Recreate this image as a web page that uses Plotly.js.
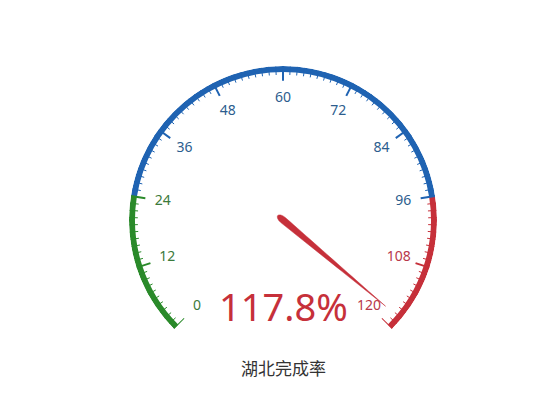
<!DOCTYPE html>
<html>
<head>
<meta charset="utf-8">
<script src="https://cdn.plot.ly/plotly-3.0.1.min.js"></script>
<style>html,body{margin:0;padding:0;background:#fff;}#chart{width:560px;height:404px;}</style>
</head>
<body>
<div id="chart"></div>
<script>
// ---- data ----
var gaugeMin = 0;
var gaugeMax = 120;
var gaugeValue = 117.8;
var chartTitle = '湖北完成率';
var tickLabels = [0, 12, 24, 36, 48, 60, 72, 84, 96, 108, 120];
var minorPerMajor = 10;
var bandEnds = [24, 96, 120];
var bandColors = ['#2a8a2a', '#1f63b2', '#c6303a'];
var labelColors = ['#3b7a3b', '#2c5d8e', '#b8384a'];

// ---- helpers ----
var SPAN = 270;
function deg(v) { return (v - gaugeMin) / (gaugeMax - gaugeMin) * SPAN; }
function bandIndex(v) {
  for (var i = 0; i < bandEnds.length; i++) { if (v <= bandEnds[i] + 1e-9) return i; }
  return bandEnds.length - 1;
}
function bandColor(v) { return bandColors[bandIndex(v)]; }

var traces = [];

// axis line bands (true arcs via barpolar)
var bStart = gaugeMin;
var bTheta = [], bWidth = [];
bandEnds.forEach(function (e) {
  bTheta.push(deg((bStart + e) / 2));
  bWidth.push(deg(e) - deg(bStart));
  bStart = e;
});
traces.push({
  type: 'barpolar', r: bandEnds.map(function () { return 0.039; }),
  base: bandEnds.map(function () { return 0.961; }),
  theta: bTheta, width: bWidth,
  marker: { color: bandColors, line: { width: 0 } },
  hoverinfo: 'skip'
});

// ticks
var majorStep = tickLabels[1] - tickLabels[0];
var minorStep = majorStep / minorPerMajor;
bandColors.forEach(function (col, bi) {
  var majT = [], majR = [], minT = [], minR = [];
  var n = Math.round((gaugeMax - gaugeMin) / minorStep);
  for (var k = 0; k <= n; k++) {
    var v = gaugeMin + k * minorStep;
    if (bandIndex(v) !== bi) continue;
    var t = deg(v);
    if (k % minorPerMajor === 0) {
      majT.push(t, t, null); majR.push(1.0, 0.905, null);
    } else {
      minT.push(t, t, null); minR.push(1.0, 0.943, null);
    }
  }
  traces.push({ type: 'scatterpolar', mode: 'lines', theta: majT, r: majR,
    line: { color: col, width: 2 }, hoverinfo: 'skip', connectgaps: false });
  traces.push({ type: 'scatterpolar', mode: 'lines', theta: minT, r: minR,
    line: { color: col, width: 1 }, hoverinfo: 'skip', connectgaps: false });
});

// tick labels
traces.push({
  type: 'scatterpolar', mode: 'text',
  theta: tickLabels.map(deg), r: tickLabels.map(function () { return 0.79; }),
  text: tickLabels.map(String),
  textposition: 'middle center',
  textfont: { family: 'Noto Sans, Open Sans, sans-serif', size: 14,
    color: tickLabels.map(function (v) { return labelColors[bandIndex(v)]; }) },
  hoverinfo: 'skip'
});

// pointer (own full-circle polar so the gauge sector does not clip its base)
var tv = deg(gaugeValue);
var needleLen = 0.87, needleHalf = 0.022, needleTail = 0.045;
var outline = [];
var N = 24, i;
for (i = 0; i <= N; i++) { var s = i / N; outline.push([s * needleLen, -needleHalf * (1 - s)]); }
for (i = 1; i <= N; i++) { var s2 = i / N; outline.push([needleLen * (1 - s2), needleHalf * s2]); }
for (i = 1; i <= 8; i++) {
  var a = Math.PI / 2 + Math.PI * i / 8;
  outline.push([needleTail * Math.cos(a), needleHalf * Math.sin(a)]);
}
var pTheta = [], pR = [];
outline.forEach(function (p) {
  pR.push(Math.sqrt(p[0] * p[0] + p[1] * p[1]));
  pTheta.push(tv + Math.atan2(p[1], p[0]) * 180 / Math.PI);
});
traces.push({
  type: 'scatterpolar', subplot: 'polar2', mode: 'lines', fill: 'toself',
  theta: pTheta, r: pR,
  fillcolor: bandColor(gaugeValue), line: { color: bandColor(gaugeValue), width: 0.5 },
  hoverinfo: 'skip'
});

var angAxis = {
  rotation: 225, direction: 'clockwise', thetaunit: 'degrees',
  showgrid: false, showline: false, showticklabels: false, ticks: ''
};

var layout = {
  width: 560, height: 404,
  margin: { l: 0, r: 0, t: 0, b: 0 },
  paper_bgcolor: '#fff',
  showlegend: false,
  polar: {
    domain: { x: [129 / 560, 437 / 560], y: [1 - 329 / 404, 1 - 66 / 404] },
    sector: [-45, 225],
    hole: 0,
    bargap: 0,
    bgcolor: 'rgba(0,0,0,0)',
    radialaxis: { visible: false, range: [0, 1] },
    angularaxis: angAxis
  },
  polar2: {
    domain: { x: [129 / 560, 437 / 560], y: [1 - 374 / 404, 1 - 66 / 404] },
    bgcolor: 'rgba(0,0,0,0)',
    radialaxis: { visible: false, range: [0, 1] },
    angularaxis: angAxis
  },
  annotations: [
    { xref: 'paper', yref: 'paper', x: 283 / 560, y: 1 - 306 / 404,
      xanchor: 'center', yanchor: 'middle', showarrow: false,
      text: gaugeValue.toFixed(1) + '%',
      font: { family: 'Noto Sans, Open Sans, sans-serif', size: 38, color: bandColor(gaugeValue) } },
    { xref: 'paper', yref: 'paper', x: 283 / 560, y: 1 - 367 / 404,
      xanchor: 'center', yanchor: 'middle', showarrow: false,
      text: chartTitle,
      font: { family: 'Noto Sans CJK SC, sans-serif', size: 17, color: '#333' } }
  ]
};

Plotly.newPlot('chart', traces, layout, { displayModeBar: false, staticPlot: true });
</script>
</body>
</html>
